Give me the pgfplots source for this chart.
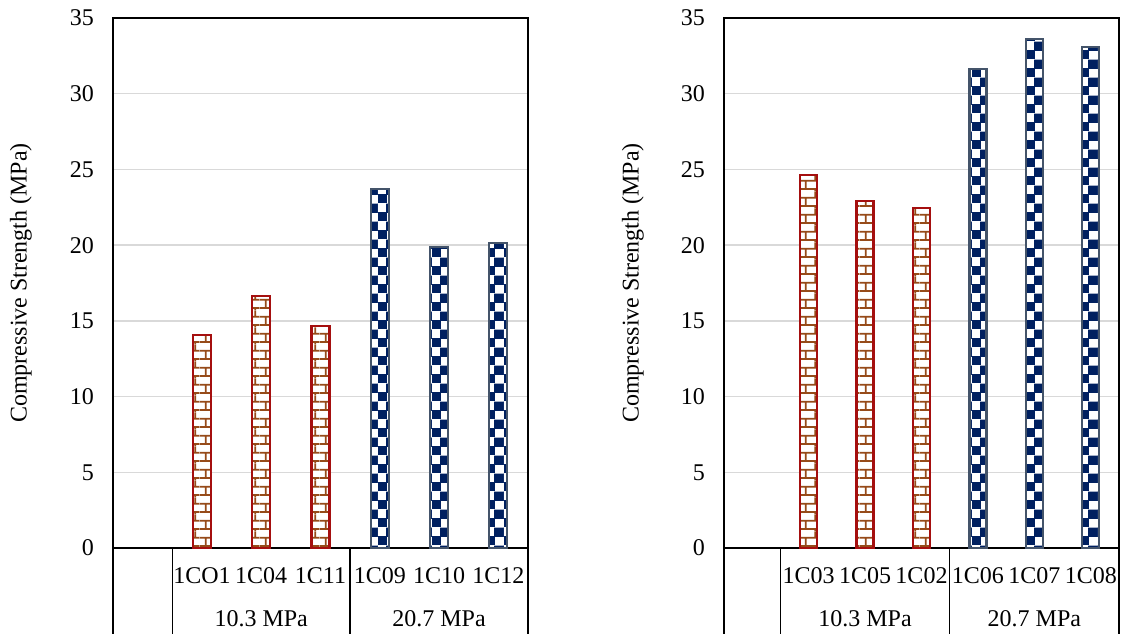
\documentclass[border=0pt]{standalone}
\usepackage{pgfplots}
\pgfplotsset{compat=1.18}
\usepackage{fontspec}
\setmainfont{Liberation Serif}
\usetikzlibrary{patterns.meta}

\definecolor{brickline}{RGB}{150,75,25}
\definecolor{brickborder}{RGB}{165,15,15}
\definecolor{checknavy}{RGB}{0,32,96}
\definecolor{checkborder}{RGB}{68,84,106}
\definecolor{gridgray}{RGB}{217,217,217}

\tikzdeclarepattern{
  name=mybricks,
  type=colored,
  bounding box={(0pt,0pt) and (10pt,8.66pt)},
  tile size={(10pt,8.66pt)},
  code={
    \fill[white] (0pt,0pt) rectangle (10pt,8.66pt);
    \draw[brickline, line width=0.9pt] (0pt,1pt) -- (10pt,1pt) (0pt,5.33pt) -- (10pt,5.33pt)
      (3pt,1pt) -- (3pt,5.33pt) (8pt,5.33pt) -- (8pt,8.66pt) (8pt,0pt) -- (8pt,1pt);
  }
}
\tikzdeclarepattern{
  name=mycheck,
  type=colored,
  bounding box={(0pt,0pt) and (9pt,9pt)},
  tile size={(9pt,9pt)},
  code={
    \fill[white] (0pt,0pt) rectangle (9pt,9pt);
    \fill[checknavy] (-0.2pt,-0.2pt) rectangle (4.7pt,4.7pt) (4.3pt,4.3pt) rectangle (9.2pt,9.2pt);
  }
}

\pgfplotsset{
  mystyle/.style={
    scale only axis, height=265pt,
    ymin=0, ymax=35, ytick={0,5,...,35},
    xmin=-0.5, xmax=6.5, xtick={1,...,6},
    ymajorgrids, grid style={gridgray, line width=0.75pt},
    major tick length=0pt,
    axis line style={black, line width=0.75pt},
    ybar, bar width=9pt, bar shift=0pt,
    clip=false,
    /pgf/number format/assume math mode=true,
    font=\fontsize{12}{14}\selectfont,
    yticklabel style={xshift=-6pt},
    xticklabel style={anchor=center, yshift=-13.85pt},
    anchor=south west,
  }
}

\begin{document}
\begin{tikzpicture}
\path[use as bounding box] (0pt,0pt) rectangle (560.5pt,317pt);

\begin{axis}[mystyle, at={(56.5pt,43pt)}, width=207.5pt,
  xticklabels={1CO1,1C04,1C11,1C09,1C10,1C12}]
\addplot[pattern=mybricks, draw=brickborder, line width=1.1pt] coordinates {(1,14.07) (2,16.65) (3,14.64)};
\addplot[pattern=mycheck, draw=checkborder, line width=1.1pt] coordinates {(4,23.69) (5,19.9) (6,20.16)};
\draw[black, line width=0.75pt] (axis cs:-0.5,0) -- ++(0pt,-43pt)
  (axis cs:0.5,0) -- ++(0pt,-43pt)
  (axis cs:3.5,0) -- ++(0pt,-43pt)
  (axis cs:6.5,0) -- ++(0pt,-43pt);
\node[font=\fontsize{12}{14}\selectfont] at ([yshift=-35.5pt]axis cs:2,0) {10.3 MPa};
\node[font=\fontsize{12}{14}\selectfont] at ([yshift=-35.5pt]axis cs:5,0) {20.7 MPa};
\node[rotate=90, font=\fontsize{12}{14}\selectfont] at ([xshift=-46pt]rel axis cs:0,0.5) {Compressive Strength (MPa)};
\end{axis}

\begin{axis}[mystyle, at={(362pt,43pt)}, width=197.5pt, bar width=8.5pt,
  xticklabels={1C03,1C05,1C02,1C06,1C07,1C08}]
\addplot[pattern=mybricks, draw=brickborder, line width=1.1pt] coordinates {(1,24.65) (2,22.91) (3,22.47)};
\addplot[pattern=mycheck, draw=checkborder, line width=1.1pt] coordinates {(4,31.63) (5,33.63) (6,33.08)};
\draw[black, line width=0.75pt] (axis cs:-0.5,0) -- ++(0pt,-43pt)
  (axis cs:0.5,0) -- ++(0pt,-43pt)
  (axis cs:3.5,0) -- ++(0pt,-43pt)
  (axis cs:6.5,0) -- ++(0pt,-43pt);
\node[font=\fontsize{12}{14}\selectfont] at ([yshift=-35.5pt]axis cs:2,0) {10.3 MPa};
\node[font=\fontsize{12}{14}\selectfont] at ([yshift=-35.5pt]axis cs:5,0) {20.7 MPa};
\node[rotate=90, font=\fontsize{12}{14}\selectfont] at ([xshift=-45.5pt]rel axis cs:0,0.5) {Compressive Strength (MPa)};
\end{axis}
\end{tikzpicture}
\end{document}
